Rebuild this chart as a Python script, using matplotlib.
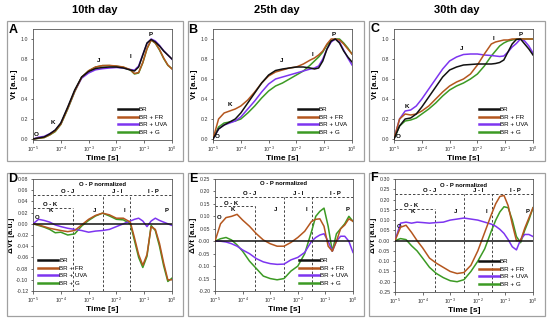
import numpy as np
import matplotlib
matplotlib.use('Agg')
import matplotlib.pyplot as plt
from matplotlib.patches import Rectangle
from matplotlib.ticker import FixedLocator, NullLocator, FormatStrFormatter

plt.rcParams['font.family'] = ['Liberation Sans', 'DejaVu Sans']

W, H = 550, 320

# log10 of time [s], same sampling for every curve
log_t = [-5.0, -4.8, -4.6, -4.4, -4.2, -4.0, -3.75, -3.5, -3.25, -3.0, -2.75, -2.5, -2.25,
         -2.0, -1.75, -1.5, -1.35, -1.2, -1.05, -0.9, -0.75, -0.6, -0.45, -0.3, -0.15, 0.0]

series = ['BR', 'BR + FR', 'BR + UVA', 'BR + G']
colors = ['#111111', '#b4561e', '#7d35f0', '#3c9a24']
days = ['10th day', '25th day', '30th day']

# Vt, 10th day
vt10_br  = [0.0, 0.01, 0.02, 0.05, 0.09, 0.16, 0.32, 0.49, 0.62, 0.675, 0.705, 0.715, 0.72,
            0.72, 0.71, 0.69, 0.68, 0.72, 0.84, 0.96, 0.995, 0.97, 0.93, 0.88, 0.84, 0.80]
vt10_fr  = [0.0, 0.008, 0.015, 0.042, 0.08, 0.148, 0.306, 0.478, 0.618, 0.683, 0.72, 0.734, 0.736,
            0.73, 0.72, 0.693, 0.655, 0.665, 0.766, 0.905, 0.99, 0.96, 0.895, 0.81, 0.74, 0.70]
vt10_uva = [0.0, 0.018, 0.026, 0.053, 0.088, 0.155, 0.312, 0.48, 0.608, 0.66, 0.692, 0.703, 0.71,
            0.715, 0.71, 0.695, 0.688, 0.73, 0.845, 0.955, 1.0, 0.98, 0.936, 0.883, 0.84, 0.797]
vt10_g   = [0.0, 0.007, 0.014, 0.04, 0.074, 0.145, 0.30, 0.472, 0.616, 0.681, 0.719, 0.734, 0.734,
            0.728, 0.717, 0.69, 0.65, 0.66, 0.762, 0.902, 0.99, 0.958, 0.89, 0.805, 0.737, 0.703]

# Vt, 25th day
vt25_br  = [0.0, 0.1, 0.14, 0.17, 0.2, 0.26, 0.36, 0.46, 0.56, 0.64, 0.685, 0.7, 0.71,
            0.72, 0.72, 0.71, 0.7, 0.71, 0.78, 0.9, 0.98, 1.0, 0.96, 0.88, 0.82, 0.77]
vt25_fr  = [0.0, 0.2, 0.26, 0.28, 0.3, 0.33, 0.39, 0.47, 0.56, 0.63, 0.67, 0.69, 0.71,
            0.72, 0.75, 0.79, 0.81, 0.84, 0.88, 0.95, 1.0, 1.0, 0.99, 0.95, 0.9, 0.85]
vt25_uva = [0.0, 0.1, 0.14, 0.16, 0.18, 0.22, 0.3, 0.38, 0.47, 0.55, 0.6, 0.62, 0.64,
            0.66, 0.68, 0.7, 0.71, 0.73, 0.8, 0.9, 0.97, 1.0, 0.97, 0.89, 0.81, 0.74]
vt25_g   = [0.0, 0.12, 0.16, 0.17, 0.18, 0.2, 0.26, 0.33, 0.41, 0.48, 0.53, 0.56, 0.6,
            0.64, 0.68, 0.74, 0.78, 0.82, 0.87, 0.94, 0.98, 1.0, 1.0, 0.96, 0.91, 0.85]

# Vt, 30th day
vt30_br  = [0.0, 0.13, 0.2, 0.21, 0.25, 0.32, 0.42, 0.52, 0.62, 0.69, 0.72, 0.74, 0.745,
            0.75, 0.75, 0.75, 0.755, 0.765, 0.79, 0.87, 0.95, 0.995, 1.0, 0.95, 0.9, 0.84]
vt30_fr  = [0.0, 0.2, 0.25, 0.24, 0.25, 0.28, 0.33, 0.4, 0.47, 0.53, 0.57, 0.6, 0.65,
            0.74, 0.85, 0.95, 0.97, 0.98, 0.99, 0.99, 1.0, 1.0, 1.0, 1.0, 1.0, 1.0]
vt30_uva = [0.0, 0.2, 0.28, 0.29, 0.33, 0.4, 0.5, 0.6, 0.7, 0.78, 0.82, 0.845, 0.85,
            0.85, 0.84, 0.835, 0.83, 0.825, 0.83, 0.87, 0.92, 0.955, 1.0, 0.98, 0.93, 0.86]
vt30_g   = [0.0, 0.13, 0.18, 0.19, 0.21, 0.25, 0.3, 0.36, 0.43, 0.49, 0.53, 0.56, 0.6,
            0.65, 0.73, 0.83, 0.88, 0.93, 0.96, 0.98, 0.99, 1.0, 1.0, 1.0, 1.0, 1.0]

# delta Vt (O-P normalized, minus BR), 10th day
dv10_fr  = [0.0, -0.002, -0.005, -0.008, -0.01, -0.012, -0.014, -0.012, -0.002, 0.008, 0.015, 0.019, 0.016,
            0.01, 0.01, 0.003, -0.025, -0.055, -0.074, -0.055, -0.005, -0.01, -0.035, -0.07, -0.1, -0.1]
dv10_uva = [0.0, 0.008, 0.006, 0.003, -0.002, -0.005, -0.008, -0.01, -0.012, -0.015, -0.013, -0.012, -0.01,
            -0.005, 0.0, 0.005, 0.008, 0.01, 0.005, -0.005, 0.005, 0.01, 0.006, 0.003, 0.0, -0.003]
dv10_g   = [0.0, -0.003, -0.006, -0.01, -0.016, -0.015, -0.02, -0.018, -0.004, 0.006, 0.014, 0.019, 0.014,
            0.008, 0.007, 0.0, -0.03, -0.06, -0.078, -0.058, -0.003, -0.012, -0.04, -0.075, -0.103, -0.097]

# delta Vt, 25th day
dv25_fr  = [0.0, 0.07, 0.095, 0.1, 0.108, 0.085, 0.06, 0.03, 0.005, -0.01, -0.02, -0.02, -0.005,
            0.015, 0.04, 0.08, 0.088, 0.09, 0.06, -0.02, -0.04, 0.0, 0.05, 0.065, 0.09, 0.08]
dv25_uva = [0.0, 0.0, -0.003, -0.01, -0.02, -0.035, -0.05, -0.07, -0.083, -0.09, -0.093, -0.092, -0.075,
            -0.065, -0.045, 0.0, 0.015, 0.025, 0.03, 0.0, -0.04, 0.0, 0.02, 0.02, 0.0, -0.045]
dv25_g   = [0.0, 0.01, 0.015, 0.005, -0.015, -0.04, -0.08, -0.11, -0.14, -0.15, -0.155, -0.15, -0.12,
            -0.1, -0.05, 0.04, 0.1, 0.12, 0.133, 0.06, -0.04, 0.03, 0.05, 0.07, 0.1, 0.08]

# delta Vt, 30th day
dv30_fr  = [0.0, 0.065, 0.075, 0.04, 0.0, -0.035, -0.085, -0.11, -0.13, -0.15, -0.16, -0.155, -0.12,
            -0.05, 0.04, 0.13, 0.18, 0.215, 0.22, 0.17, 0.08, 0.0, 0.0, 0.06, 0.11, 0.16]
dv30_uva = [0.0, 0.085, 0.09, 0.085, 0.09, 0.088, 0.085, 0.088, 0.09, 0.1, 0.105, 0.11, 0.105,
            0.1, 0.09, 0.08, 0.07, 0.055, 0.035, 0.005, -0.03, -0.045, 0.005, 0.03, 0.03, 0.02]
dv30_g   = [0.0, 0.01, 0.005, -0.025, -0.05, -0.085, -0.13, -0.16, -0.18, -0.195, -0.2, -0.19, -0.15,
            -0.1, -0.04, 0.05, 0.1, 0.14, 0.165, 0.16, 0.1, 0.02, -0.01, 0.05, 0.1, 0.16]

top_data = [[vt10_br, vt10_fr, vt10_uva, vt10_g],
            [vt25_br, vt25_fr, vt25_uva, vt25_g],
            [vt30_br, vt30_fr, vt30_uva, vt30_g]]
bot_data = [[dv10_fr, dv10_uva, dv10_g],
            [dv25_fr, dv25_uva, dv25_g],
            [dv30_fr, dv30_uva, dv30_g]]

# O K J I P labels on the transients (log t, Vt)
top_marks = [
    [('O', -4.9, 0.05), ('K', -4.28, 0.17), ('J', -2.63, 0.78), ('I', -1.48, 0.82), ('P', -0.75, 1.05)],
    [('O', -4.86, 0.03), ('K', -4.38, 0.34), ('J', -2.54, 0.78), ('I', -1.43, 0.85), ('P', -0.67, 1.05)],
    [('O', -4.86, 0.03), ('K', -4.52, 0.33), ('J', -2.58, 0.9), ('I', -1.41, 1.0), ('P', -0.44, 1.05)],
]
dy_ticks = [np.arange(-0.12, 0.081, 0.02), np.arange(-0.20, 0.251, 0.05), np.arange(-0.25, 0.301, 0.05)]
# phase guides: long line, O-K line, phase labels, OP label, K/J/I/P, O, O-K label
guides = [
    dict(long=0.052, ok=0.029, phase=0.057, op=0.071, pts=0.024, o=0.011, oklab=0.035),
    dict(long=0.176, ok=0.14, phase=0.19, op=0.23, pts=0.126, o=0.097, oklab=0.153),
    dict(long=0.225, ok=0.152, phase=0.243, op=0.27, pts=0.14, o=0.07, oklab=0.17),
]
bounds = [-3.55, -2.5, -1.5]

fig = plt.figure(figsize=(5.5, 3.2), dpi=100)


def px_axes(l, t, r, b):
    return fig.add_axes([l / W, 1 - b / H, (r - l) / W, (b - t) / H])


def px_text(x, y, s, **kw):
    fig.text(x / W, 1 - y / H, s, **kw)


def style(ax):
    ax.set_xscale('log')
    ax.set_xlim(1e-5, 1)
    ax.xaxis.set_major_locator(FixedLocator([1e-5, 1e-4, 1e-3, 1e-2, 1e-1, 1]))
    ax.xaxis.set_minor_locator(NullLocator())
    ax.tick_params(labelsize=3.8, length=1.8, width=0.5, pad=1.5, colors='#333333')
    for s in ax.spines.values():
        s.set_linewidth(0.6)
        s.set_color('#555555')
    ax.set_xlabel('Time [s]', fontsize=6, fontweight='bold', labelpad=1)


def legend(ax, loc):
    leg = ax.legend(loc=loc, fontsize=4.5, frameon=False, handlelength=3.2,
                    handletextpad=0.2, labelspacing=0.35, borderaxespad=0.4)
    for ln in leg.get_lines():
        ln.set_linewidth(1.8)


# panel frames
for col, x0 in enumerate([7, 188, 369]):
    for y0, y1 in [(21, 161), (173, 316)]:
        fig.patches.append(Rectangle((x0 / W, 1 - y1 / H), 176 / W, (y1 - y0) / H,
                                     transform=fig.transFigure, fill=False,
                                     edgecolor='#a0a0a0', linewidth=0.9))

for col, cx in enumerate([95, 277, 457]):
    px_text(cx, 10, days[col], ha='center', va='center', fontsize=8, fontweight='bold')

top_boxes = [(33, 29, 172, 140), (213, 29, 352, 140), (394, 29, 533, 140)]
bot_boxes = [(33, 179, 172, 291), (215, 179, 353, 291), (395, 179, 533, 292)]
top_letters = [('A', 13, 30), ('B', 193, 30), ('C', 375, 29)]
bot_letters = [('D', 13, 179), ('E', 193, 179), ('F', 374, 178)]

t = 10 ** np.array(log_t)

for col in range(3):
    ax = px_axes(*top_boxes[col])
    style(ax)
    for k in range(4):
        ax.plot(t, top_data[col][k], color=colors[k], lw=1.1, label=series[k], zorder=4 - k if k else 5)
    ax.set_ylim(-0.01, 1.1)
    ax.yaxis.set_major_locator(FixedLocator([0, 0.2, 0.4, 0.6, 0.8, 1.0]))
    ax.yaxis.set_major_formatter(FormatStrFormatter('%.1f'))
    ax.set_ylabel('Vt [a.u.]', fontsize=5.8, fontweight='bold', labelpad=2)
    for lab, lx, ly in top_marks[col]:
        ax.text(10 ** lx, ly, lab, fontsize=4.5, fontweight='bold', ha='center', va='center')
    legend(ax, 'lower right')
    l, x, y = top_letters[col]
    px_text(x, y, l, ha='center', va='center', fontsize=9, fontweight='bold')

    ax = px_axes(*bot_boxes[col])
    style(ax)
    ax.plot(t, np.zeros(len(t)), color=colors[0], lw=1.1, label=series[0], zorder=5)
    for k in range(3):
        ax.plot(t, bot_data[col][k], color=colors[k + 1], lw=1.1, label=series[k + 1], zorder=4 - k)
    yt = dy_ticks[col]
    ax.set_ylim(yt[0], yt[-1])
    ax.yaxis.set_major_locator(FixedLocator(yt))
    ax.yaxis.set_major_formatter(FormatStrFormatter('%.2f'))
    ax.set_ylabel('\u0394Vt [a.u.]', fontsize=5.8, fontweight='bold', labelpad=1)

    g = guides[col]
    dash = dict(color='#444444', lw=0.7, ls=(0, (2.5, 2)), zorder=1)
    ax.axhline(g['long'], **dash)
    ax.plot([1e-5, 10 ** bounds[0]], [g['ok'], g['ok']], **dash)
    ax.plot([10 ** bounds[0]] * 2, [yt[0], g['ok']], **dash)
    ax.plot([10 ** bounds[1]] * 2, [yt[0], g['long']], **dash)
    ax.plot([10 ** bounds[2]] * 2, [yt[0], g['long']], **dash)
    tk = dict(fontsize=4.3, fontweight='bold', ha='center', va='center')
    ax.text(10 ** -2.5, g['op'], 'O - P normalized', **tk)
    ax.text(10 ** -3.75, g['phase'], 'O - J', **tk)
    ax.text(10 ** -1.98, g['phase'], 'J - I', **tk)
    ax.text(10 ** -0.65, g['phase'], 'I - P', **tk)
    ax.text(10 ** -4.4, g['oklab'], 'O - K', **tk)
    ax.text(10 ** -4.35, g['pts'], 'K', **tk)
    ax.text(10 ** -2.8, g['pts'], 'J', **tk)
    ax.text(10 ** -1.7, g['pts'], 'I', **tk)
    ax.text(10 ** -0.2, g['pts'], 'P', **tk)
    ax.text(10 ** -4.87, g['o'], 'O', **tk)
    legend(ax, 'lower left' if col == 0 else 'lower right')
    l, x, y = bot_letters[col]
    px_text(x, y, l, ha='center', va='center', fontsize=9, fontweight='bold')

fig.savefig('out.png', dpi=100)
